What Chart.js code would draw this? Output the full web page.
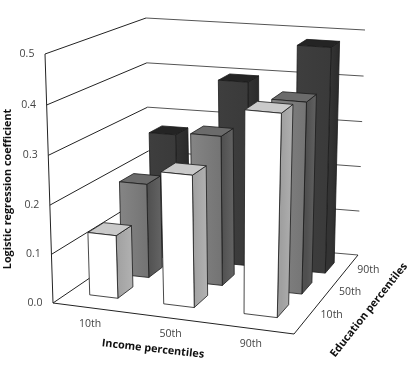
<!DOCTYPE html>
<html>
<head>
<meta charset="utf-8">
<style>html,body{margin:0;padding:0;background:#fff}#wrap{width:409px;height:365px;position:relative}</style>
<script src="https://cdn.jsdelivr.net/npm/chart.js@4/dist/chart.umd.min.js"></script>
</head>
<body>
<div id="wrap"><canvas id="c" width="409" height="365"></canvas></div>
<script>
const incomeLabels = ['10th', '50th', '90th'];
const educationLabels = ['10th', '50th', '90th'];
const valueTicks = [0, 0.1, 0.2, 0.3, 0.4, 0.5];
const edu10 = [0.13, 0.27, 0.41];
const edu50 = [0.20, 0.315, 0.40];
const edu90 = [0.275, 0.40, 0.485];

const yTitle = 'Logistic regression coefficient';
const xTitle = 'Income percentiles';
const zTitle = 'Education percentiles';

const faces = [
  {front: ['#ffffff', '#ffffff'], side: ['#a0a0a0', '#b0b0b0'], top: '#cacaca'},
  {front: ['#858585', '#747474'], side: ['#4f4f4f', '#626262'], top: '#6b6b6b'},
  {front: ['#3e3e3e', '#3a3a3a'], side: ['#333333', '#2a2a2a'], top: '#242424'}
];
const view = {
  floor: [[53, 303], [294, 334], [358, 255], [150, 237]],
  top: [[45, 54], [303, 78], [365, 30], [146, 18]],
  k: 0.03, barU: 0.13, barW: 0.15, rowShift: [-0.002, 0.012, 0.032]
};

function homography(q) {
  const [[x0, y0], [x1, y1], [x2, y2], [x3, y3]] = q;
  const dx1 = x1 - x2, dx2 = x3 - x2, sx = x0 - x1 + x2 - x3;
  const dy1 = y1 - y2, dy2 = y3 - y2, sy = y0 - y1 + y2 - y3;
  const d = dx1 * dy2 - dx2 * dy1;
  const g = (sx * dy2 - dx2 * sy) / d, h = (dx1 * sy - sx * dy1) / d;
  const a = x1 - x0 + g * x1, b = x3 - x0 + h * x3, c = x0;
  const e = y1 - y0 + g * y1, f = y3 - y0 + h * y3, i = y0;
  return (u, w) => {
    const n = g * u + h * w + 1;
    return [(a * u + b * w + c) / n, (e * u + f * w + i) / n];
  };
}
const H0 = homography(view.floor), H1 = homography(view.top);
function P(u, w, s) {
  const t = s / (1 + view.k * (1 - s));
  const f = H0(u, w), g = H1(u, w);
  return [f[0] + (g[0] - f[0]) * t, f[1] + (g[1] - f[1]) * t];
}
function poly(ctx, pts, fill, stroke, lw) {
  ctx.beginPath();
  pts.forEach((p, i) => i ? ctx.lineTo(p[0], p[1]) : ctx.moveTo(p[0], p[1]));
  ctx.closePath();
  if (fill) { ctx.fillStyle = fill; ctx.fill(); }
  if (stroke) { ctx.strokeStyle = stroke; ctx.lineWidth = lw; ctx.lineJoin = 'round'; ctx.stroke(); }
}
function grad(ctx, a, b, c) {
  const g = ctx.createLinearGradient(a[0], 0, b[0], 0);
  g.addColorStop(0, c[0]); g.addColorStop(1, c[1]);
  return g;
}
function line(ctx, a, b, color, lw) {
  ctx.beginPath(); ctx.moveTo(a[0], a[1]); ctx.lineTo(b[0], b[1]);
  ctx.strokeStyle = color; ctx.lineWidth = lw; ctx.stroke();
}
function text(ctx, str, x, y, font, color, rot) {
  ctx.save(); ctx.translate(x, y); ctx.rotate(rot || 0);
  ctx.font = font; ctx.fillStyle = color; ctx.textAlign = 'center'; ctx.textBaseline = 'middle';
  ctx.fillText(str, 0, 0); ctx.restore();
}
function along(a, b, t) { return [a[0] + (b[0] - a[0]) * t, a[1] + (b[1] - a[1]) * t]; }

const box3d = {
  id: 'box3d',
  beforeDatasetsDraw(chart) {
    const {ctx, chartArea: A, scales} = chart;
    const U = v => (scales.x.getPixelForValue(v) - A.left) / A.width;
    const W = v => (scales.edu.getPixelForValue(v) - A.left) / A.width;
    const S = v => (A.bottom - scales.y.getPixelForValue(v)) / A.height;
    const tf = '10.5px "Open Sans"', tc = '#444444', bf = 'bold 10.8px "Open Sans"', bc = '#111111';

    valueTicks.forEach(v => {
      const s = S(v), a = P(0, 0, s), b = P(0, 1, s), c = P(1, 1, s);
      line(ctx, a, b, '#222222', 1);
      line(ctx, b, c, '#555555', 1);
      text(ctx, v.toFixed(1), a[0] - 18, a[1], tf, tc);
    });
    line(ctx, P(0, 0, 0), P(0, 0, 1), '#222222', 1);
    line(ctx, P(0, 0, 0), P(1, 0, 0), '#222222', 1);
    line(ctx, P(1, 0, 0), P(1, 1, 0), '#222222', 1);

    for (let d = chart.data.datasets.length - 1; d >= 0; d--) {
      const wc = W(d), col = faces[d];
      chart.data.datasets[d].data.forEach((val, i) => {
        const uc = U(i) + view.rowShift[d], s = S(val);
        const u0 = uc - view.barU / 2, u1 = uc + view.barU / 2, w0 = wc - view.barW / 2, w1 = wc + view.barW / 2;
        const ec = '#1a1a1a';
        poly(ctx, [P(u1, w0, 0), P(u1, w1, 0), P(u1, w1, s), P(u1, w0, s)], grad(ctx, P(u1, w0, s), P(u1, w1, s), col.side), ec, 0.8);
        poly(ctx, [P(u0, w0, s), P(u1, w0, s), P(u1, w1, s), P(u0, w1, s)], col.top, ec, 0.8);
        poly(ctx, [P(u0, w0, 0), P(u1, w0, 0), P(u1, w0, s), P(u0, w0, s)], grad(ctx, P(u0, w0, s), P(u1, w0, s), col.front), ec, 0.8);
      });
    }

    const fl = P(0, 0, 0), fr = P(1, 0, 0), br = P(1, 1, 0);
    incomeLabels.forEach((l, i) => {
      const p = along(fl, fr, U(i));
      text(ctx, l, p[0] - 3, p[1] + 15.5, tf, tc);
    });
    educationLabels.forEach((l, i) => {
      const p = along(fr, br, W(i));
      text(ctx, l, p[0] + 24, p[1] - 2, tf, tc);
    });
    text(ctx, yTitle, 8, 189, bf, bc, -Math.PI / 2);
    text(ctx, xTitle, 153, 349, bf, bc, 0.115);
    text(ctx, zTitle, 369, 310, bf, bc, -0.9);
    return false;
  }
};

new Chart(document.getElementById('c'), {
  type: 'bar',
  data: {
    labels: incomeLabels,
    datasets: [
      {label: educationLabels[0], data: edu10},
      {label: educationLabels[1], data: edu50},
      {label: educationLabels[2], data: edu90}
    ]
  },
  options: {
    responsive: false, animation: false, events: [],
    layout: {padding: {left: 53, right: 115, top: 54, bottom: 62}},
    plugins: {legend: {display: false}, tooltip: {enabled: false}},
    scales: {
      x: {display: false, offset: true},
      y: {display: false, min: 0, max: 0.5, ticks: {stepSize: 0.1}},
      edu: {type: 'linear', axis: 'x', display: false, min: -0.5, max: 2.5}
    }
  },
  plugins: [box3d]
});
</script>
</body>
</html>
